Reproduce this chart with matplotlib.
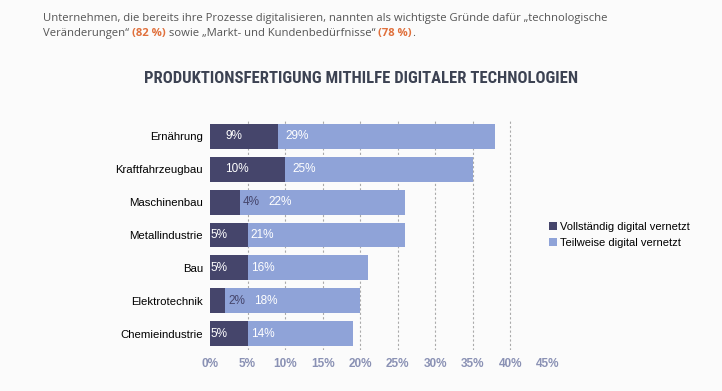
import matplotlib.pyplot as plt
import numpy as np

# chart values
categories = ['Ernährung', 'Kraftfahrzeugbau', 'Maschinenbau', 'Metallindustrie',
              'Bau', 'Elektrotechnik', 'Chemieindustrie']
voll = [9, 10, 4, 5, 5, 2, 5]
teil = [29, 25, 22, 21, 16, 18, 14]
series_names = ['Vollständig digital vernetzt', 'Teilweise digital vernetzt']
xticks = [0, 5, 10, 15, 20, 25, 30, 35, 40, 45]

dark = '#45456b'
light = '#8fa3d8'
tick_col = '#8a91b4'

plt.rcParams['font.family'] = ['Liberation Sans', 'DejaVu Sans']

fig = plt.figure(figsize=(7.22, 3.91), dpi=100)
fig.patch.set_facecolor('#fbfbfb')
ax = fig.add_axes([0.291, 0.105, 0.4675, 0.588])
ax.set_facecolor('#fbfbfb')

y = np.arange(len(categories))
ax.barh(y, voll, height=0.76, color=dark, label=series_names[0], zorder=3)
ax.barh(y, teil, left=voll, height=0.76, color=light, label=series_names[1], zorder=3)

# value labels
for i in range(len(categories)):
    v, t = voll[i], teil[i]
    if v >= 5:
        xv = 2.0 if v >= 9 else 0.1
        ax.text(xv, i, f'{v}%', color='white', va='center', ha='left', fontsize=8.5, zorder=4)
        xt = v + 1.0 if v >= 9 else v + 0.4
        ax.text(xt, i, f'{t}%', color='white', va='center', ha='left', fontsize=8.5, zorder=4)
    else:
        ax.text(v + 0.4, i, f'{v}%', color=dark, va='center', ha='left', fontsize=8.5, zorder=4)
        ax.text(v + 3.8, i, f'{t}%', color='white', va='center', ha='left', fontsize=8.5, zorder=4)

ax.set_yticks(y)
ax.set_yticklabels(categories, fontsize=8.2)
ax.set_ylim(len(categories) - 0.5, -0.5)
ax.set_xlim(0, 45)
ax.set_xticks(xticks)
ax.set_xticklabels([f'{t}%' for t in xticks], color=tick_col, fontsize=8.5, fontweight='bold')
ax.tick_params(length=0, pad=6)
ax.tick_params(axis='y', pad=5)
for s in ax.spines.values():
    s.set_visible(False)
ax.grid(axis='x', linestyle=(0, (2, 2)), color='#aaaaaa', linewidth=0.8, zorder=0)
gl = ax.get_xgridlines()
gl[0].set_visible(False)
gl[-1].set_visible(False)

leg = ax.legend(loc='center left', bbox_to_anchor=(1.004, 0.5), frameon=False,
                fontsize=8, handlelength=0.7, handleheight=0.7, handletextpad=0.3,
                labelspacing=0.5, borderaxespad=0.0, borderpad=0.0)

# heading texts
para_font = ['Open Sans', 'DejaVu Sans']
fig.text(0.06, 0.953, 'Unternehmen, die bereits ihre Prozesse digitalisieren, nannten als wichtigste Gründe dafür \u201etechnologische',
         fontsize=8.1, color='#555555', family=para_font, va='center')
t1 = fig.text(0.06, 0.914, 'Veränderungen\u201c ', fontsize=8.1, color='#555555',
              family=para_font, va='center')
fig.canvas.draw()
r = fig.canvas.get_renderer()
parts = [('(82 %)', '#e0703c', 'bold'), (' sowie \u201eMarkt- und Kundenbedürfnisse\u201c ', '#555555', 'normal'),
         ('(78 %)', '#e0703c', 'bold'), ('.', '#555555', 'normal')]
prev = t1
for txt, col, w in parts:
    bb = prev.get_window_extent(r)
    x0 = bb.x1 / fig.bbox.width
    prev = fig.text(x0, 0.914, txt, fontsize=8.1, color=col, fontweight=w,
                    family=para_font, va='center')
    fig.canvas.draw()

fig.text(0.5, 0.8, 'PRODUKTIONSFERTIGUNG MITHILFE DIGITALER TECHNOLOGIEN',
         ha='center', va='center', fontsize=12, fontweight='bold', color='#3c4252',
         family=['Roboto Condensed', 'Roboto', 'DejaVu Sans'])

fig.savefig('out.png', dpi=100, facecolor=fig.get_facecolor())
